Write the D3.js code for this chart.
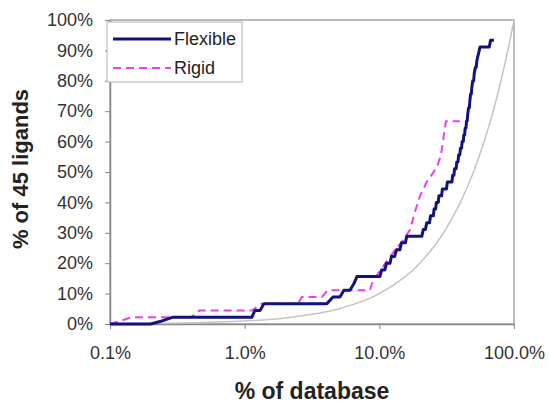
<!DOCTYPE html>
<html><head><meta charset="utf-8">
<script src="https://cdn.jsdelivr.net/npm/d3@7/dist/d3.min.js"></script>
<style>
body{margin:0;background:#fff;}
svg text{font-family:Arial,"Liberation Sans",Helvetica,sans-serif;}
</style>
</head><body>
<svg id="chart" width="549" height="405"></svg>
<script>
// ---- data ----
const xTicks = [0.1, 1, 10, 100];
const xTickLabels = ["0.1%", "1.0%", "10.0%", "100.0%"];
const yTicks = [0, 10, 20, 30, 40, 50, 60, 70, 80, 90, 100];
const seriesNames = ["Flexible", "Rigid"];

const flexX = [0.1, 0.2, 0.235, 0.29, 1.13, 1.19, 1.30, 1.39, 4.08, 4.53, 5.10, 5.46, 6.05, 6.48, 6.82,
  10.1, 10.4, 11.0, 11.3, 12.0, 12.3, 13.0, 13.4, 14.2, 14.6, 15.6, 16.0, 20.7, 21.2, 22.0, 22.5,
  23.6, 24.0, 25.2, 25.5, 26.2, 26.5, 27.4, 27.7, 29.0, 29.4, 31.5, 32.0, 34.6, 35.0, 35.8, 36.2,
  37.2, 37.6, 38.4, 38.8, 39.6, 40.0, 40.8, 41.2, 42.0, 42.4, 43.0, 43.4, 44.0, 44.4, 44.9, 45.3,
  46.0, 46.6, 47.0, 47.6, 48.2, 48.6, 49.4, 50.2, 50.6, 51.6, 52.4, 53.0, 54.5, 55.9, 65.5, 67.0, 70.9];
const flexY = [0, 0, 0.8, 2.2, 2.2, 4.4, 4.4, 6.7, 6.7, 8.9, 8.9, 11.1, 11.1, 13.3, 15.6,
  15.6, 17.8, 17.8, 20.0, 20.0, 22.2, 22.2, 24.4, 24.4, 26.7, 26.7, 28.9, 28.9, 31.1, 31.1, 33.3,
  33.3, 35.6, 35.6, 37.8, 37.8, 40.0, 40.0, 42.2, 42.2, 44.4, 44.4, 46.7, 46.7, 48.9, 48.9, 51.1,
  51.1, 53.3, 53.3, 55.6, 55.6, 57.8, 57.8, 60.0, 60.0, 62.2, 62.2, 64.4, 64.4, 66.7, 66.7, 68.9,
  71.1, 71.1, 73.3, 75.6, 75.6, 77.8, 80.0, 80.0, 82.2, 84.4, 84.4, 86.7, 88.9, 91.1, 91.1, 93.3, 93.3];

const rigidX = [0.1, 0.145, 0.40, 0.46, 1.13, 1.34, 2.49, 2.66, 3.75, 4.15, 8.52, 8.81, 9.44, 10.6,
  13.1, 14.7, 16.9, 18.4, 20.0, 22.5, 26.8, 28.7, 30.2, 31.2, 39.6];
const rigidY = [0, 2.2, 2.2, 4.4, 4.4, 6.7, 6.7, 8.9, 8.9, 11.1, 11.1, 13.3, 15.6, 18.8,
  24.4, 27.0, 31.0, 37.0, 42.0, 46.7, 51.6, 55.6, 62.2, 66.7, 66.7];

const randomX = [0.1, 0.2, 0.5, 1, 2, 5, 10, 20, 30, 40, 50, 60, 70, 80, 90, 100];
const randomY = [0.1, 0.2, 0.5, 1, 2, 5, 10, 20, 30, 40, 50, 60, 70, 80, 90, 100];

// ---- chart ----
const svg = d3.select("#chart");
const mL = 110, mR = 514, mT = 20, mB = 324;
const x = d3.scaleLog().domain([0.1, 100]).range([mL, mR]);
const y = d3.scaleLinear().domain([0, 100]).range([mB, mT]);

// plot area border
svg.append("rect").attr("x", mL).attr("y", mT)
  .attr("width", mR - mL).attr("height", mB - mT)
  .attr("fill", "#fff").attr("stroke", "#a6a6a6").attr("stroke-width", 1.5);

// axes
const yAxis = svg.append("g").attr("transform", `translate(${mL},0)`)
  .call(d3.axisLeft(y).tickValues(yTicks).tickFormat(d => d + "%").tickSize(5).tickPadding(12).tickSizeOuter(0));
const xAxis = svg.append("g").attr("transform", `translate(0,${mB})`)
  .call(d3.axisBottom(x).tickValues(xTicks).tickFormat((d, i) => xTickLabels[i]).tickSize(5).tickPadding(17).tickSizeOuter(0));
[yAxis, xAxis].forEach(g => {
  g.select(".domain").attr("stroke", "#888").attr("stroke-width", 1.5);
  g.selectAll(".tick line").attr("stroke", "#888").attr("stroke-width", 1);
  g.selectAll(".tick text").attr("fill", "#333").style("font-size", "18px");
});

// lines
const zip = (a, b) => a.map((v, i) => [v, b[i]]);
const smoothLine = d3.line().x(d => x(d[0])).y(d => y(d[1])).curve(d3.curveMonotoneX);
const stepLine = d3.line().x(d => x(d[0])).y(d => y(d[1])).curve(d3.curveLinear);

svg.append("path").datum(zip(randomX, randomY))
  .attr("d", smoothLine).attr("fill", "none")
  .attr("stroke", "#c4c4c4").attr("stroke-width", 1.5);

svg.append("path").datum(zip(rigidX, rigidY))
  .attr("d", stepLine).attr("fill", "none")
  .attr("stroke", "#f03cf0").attr("stroke-width", 2).attr("stroke-dasharray", "8,5");

svg.append("path").datum(zip(flexX, flexY))
  .attr("d", stepLine).attr("fill", "none")
  .attr("stroke", "#12137a").attr("stroke-width", 3).attr("stroke-linejoin", "round");

// axis titles
svg.append("text").attr("x", (mL + mR) / 2).attr("y", 399)
  .attr("text-anchor", "middle").attr("font-weight", "bold").attr("fill", "#222")
  .style("font-size", "23px").text("% of database");
svg.append("text").attr("transform", `translate(28,${(mT + mB) / 2 - 3}) rotate(-90)`)
  .attr("text-anchor", "middle").attr("font-weight", "bold").attr("fill", "#222")
  .style("font-size", "22px").text("% of 45 ligands");

// legend
const lg = svg.append("g");
lg.append("rect").attr("x", 107).attr("y", 22).attr("width", 135).attr("height", 60)
  .attr("fill", "#fff").attr("stroke", "#b0b0b0").attr("stroke-width", 1);
const legStyles = [
  {color: "#12137a", width: 3, dash: null},
  {color: "#f03cf0", width: 2, dash: "8,5"}
];
seriesNames.forEach((name, i) => {
  const yy = 39 + i * 29;
  lg.append("line").attr("x1", 113).attr("x2", 171).attr("y1", yy).attr("y2", yy)
    .attr("stroke", legStyles[i].color).attr("stroke-width", legStyles[i].width)
    .attr("stroke-dasharray", legStyles[i].dash);
  lg.append("text").attr("x", 174).attr("y", yy).attr("dy", "0.35em")
    .attr("fill", "#222").style("font-size", "18px").text(name);
});
</script>
</body></html>
